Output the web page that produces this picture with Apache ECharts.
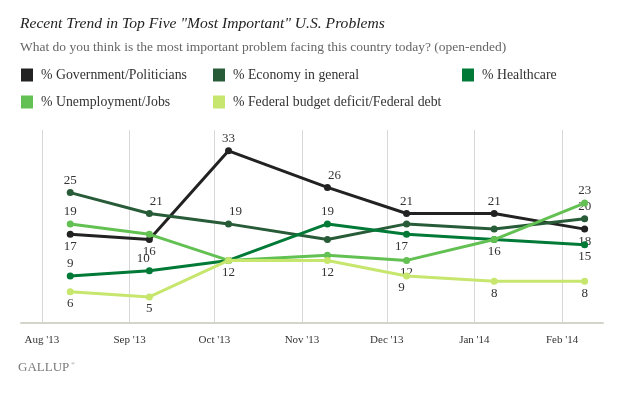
<!DOCTYPE html>
<html>
<head>
<meta charset="utf-8">
<script src="https://cdn.jsdelivr.net/npm/echarts@6/dist/echarts.min.js"></script>
<style>
html,body{margin:0;padding:0;background:#fff;}
#chart{width:621px;height:393px;}
</style>
</head>
<body>
<div id="chart"></div>
<script>
// ---- data ----
const pollDates = ['2013-08-11','2013-09-08','2013-10-06','2013-11-10','2013-12-08','2014-01-08','2014-02-09'];
const tickDates = ['2013-08-01','2013-09-01','2013-10-01','2013-11-01','2013-12-01','2014-01-01','2014-02-01'];
const seriesNames = ['% Government/Politicians','% Economy in general','% Healthcare','% Unemployment/Jobs','% Federal budget deficit/Federal debt'];
const govValues      = [17, 16, 33, 26, 21, 21, 18];
const economyValues  = [25, 21, 19, 16, 19, 18, 20];
const healthValues   = [9, 10, 12, 19, 17, 16, 15];
const jobsValues     = [19, 17, 12, 13, 12, 16, 23];
const deficitValues  = [6, 5, 12, 12, 9, 8, 8];

// label placement (which points carry a value label, and where)
const govLabels     = ['b','b','a','ar','a','a','b'];
const economyLabels = ['a','ar','ar','','','','a'];
const healthLabels  = ['a','al','','a','bl','','b'];
const jobsLabels    = ['a','','','','b','b','a'];
const deficitLabels = ['b','b','b','b','bl','b','b'];

const colors = ['#222222','#285b38','#007a36','#62c152','#c6e66e'];

function toTs(s){ const p = s.split('-').map(Number); return new Date(p[0], p[1]-1, p[2]).getTime(); }

const serif = 'Liberation Serif';
const labelFont = {fontFamily: serif, fontSize: 13, color: '#333'};

function buildData(values, places){
  return values.map((v, i) => {
    const pl = places[i];
    const item = {value: [toTs(pollDates[i]), v]};
    if (!pl) { item.label = {show: false}; }
    else {
      const top = pl[0] === 'a';
      let dx = 0;
      if (pl === 'ar') dx = 7;
      if (pl === 'al') dx = -6;
      if (pl === 'bl') dx = -5;
      item.label = {show: true, position: top ? 'top' : 'bottom', distance: 2, offset: [dx, 0]};
    }
    return item;
  });
}

const allValues = [govValues, economyValues, healthValues, jobsValues, deficitValues];
const allLabels = [govLabels, economyLabels, healthLabels, jobsLabels, deficitLabels];

const series = seriesNames.map((name, k) => ({
  name: name,
  type: 'line',
  data: buildData(allValues[k], allLabels[k]),
  symbol: 'circle',
  symbolSize: 7,
  lineStyle: {width: 3, color: colors[k]},
  itemStyle: {color: colors[k]},
  label: Object.assign({show: true, formatter: p => p.value[1]}, labelFont),
  emphasis: {disabled: true},
  z: 2 + k
}));

const legendPos = [[21, 68], [213, 68], [462, 68], [21, 95], [213, 95]];
const legends = seriesNames.map((n, k) => ({
  data: [n],
  left: legendPos[k][0],
  top: legendPos[k][1],
  padding: 0,
  itemWidth: 12,
  itemHeight: 13,
  icon: 'rect',
  selectedMode: false,
  textStyle: {fontFamily: serif, fontSize: 13.8, color: '#333', padding: [0,0,0,3]}
}));

const chart = echarts.init(document.getElementById('chart'), null, {renderer: 'canvas'});
chart.setOption({
  animation: false,
  color: colors,
  title: [
    {text: 'Recent Trend in Top Five "Most Important" U.S. Problems', left: 20, top: 16, padding: 0,
     textStyle: {fontFamily: serif, fontStyle: 'italic', fontWeight: 'normal', fontSize: 15.6, color: '#222'}},
    {text: 'What do you think is the most important problem facing this country today? (open-ended)', left: 20, top: 40, padding: 0,
     textStyle: {fontFamily: serif, fontWeight: 'normal', fontSize: 13.5, color: '#666'}}
  ],
  legend: legends,
  grid: {left: 21, right: 18, top: 130, bottom: 70, containLabel: false},
  xAxis: {
    type: 'time',
    min: new Date(2013, 6, 24, 14).getTime(),
    max: new Date(2014, 1, 15, 12).getTime(),
    axisLine: {show: true, lineStyle: {color: '#d4d4cc', width: 2}},
    axisTick: {show: false, customValues: tickDates.map(toTs)},
    axisLabel: {customValues: tickDates.map(toTs), formatter: "{MMM} '{yy}", margin: 12,
      fontFamily: serif, fontSize: 11, color: '#333'},
    splitLine: {show: true, lineStyle: {color: '#d8d8d8', width: 1}}
  },
  yAxis: {type: 'value', min: 0, max: 37, show: false, splitLine: {show: false}},
  graphic: [
    {type: 'text', left: 18, top: 361, style: {text: 'GALLUP', font: '13px "Liberation Serif"', fill: '#7a7a7a'}},
    {type: 'text', left: 71, top: 361, style: {text: '®', font: '5px "Liberation Serif"', fill: '#7a7a7a'}}
  ],
  series: series
});
</script>
</body>
</html>
